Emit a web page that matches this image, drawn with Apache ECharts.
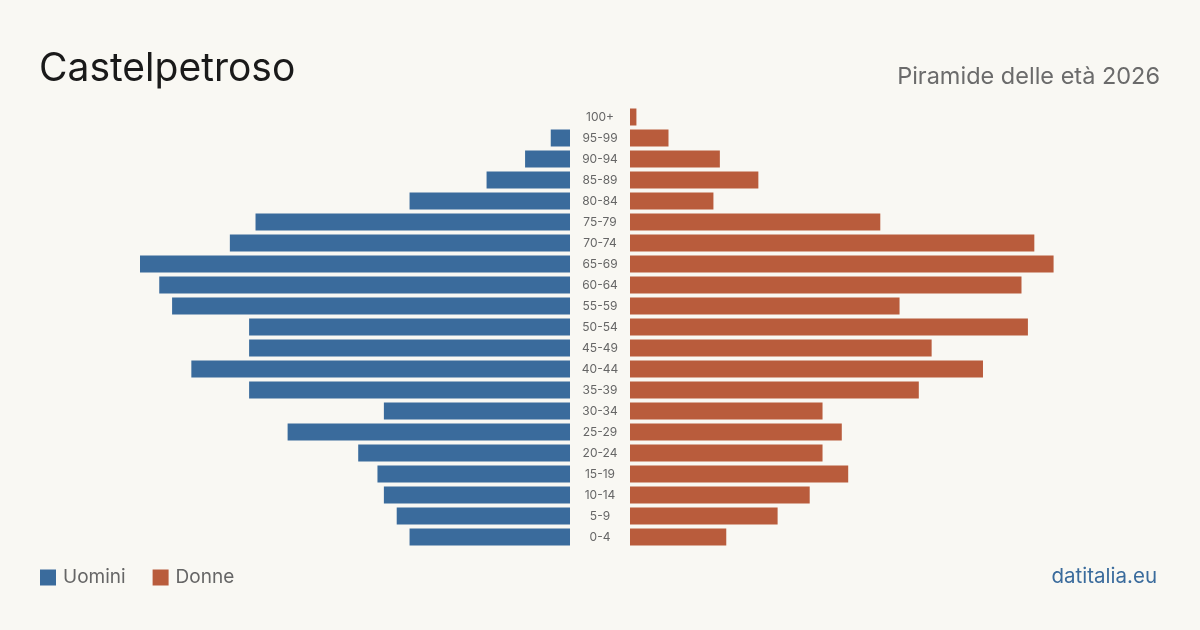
<!DOCTYPE html>
<html>

<head>
    <title>Castelpetroso - Piramide delle età 2026</title>
    <script src="https://cdn.jsdelivr.net/npm/echarts@6.0.0/dist/echarts.min.js"></script>
    <style>
        html, body { margin: 0; padding: 0; background: #f9f8f3; }
    </style>
</head>

<body>
    <div id="myChart" style="width: 1200px; height: 630px;"></div>

    <script>
        // Age classes, top to bottom as in the picture
        const ageClasses = ['100+', '95-99', '90-94', '85-89', '80-84', '75-79', '70-74', '65-69', '60-64',
            '55-59', '50-54', '45-49', '40-44', '35-39', '30-34', '25-29', '20-24', '15-19', '10-14', '5-9', '0-4'];
        const uomini = [0, 3, 7, 13, 25, 49, 53, 67, 64, 62, 50, 50, 59, 50, 29, 44, 33, 30, 29, 27, 25];
        const donne = [1, 6, 14, 20, 13, 39, 63, 66, 61, 42, 62, 47, 55, 45, 30, 33, 30, 34, 28, 23, 15];

        const maxValue = 67;
        const blue = '#3a6b9c';
        const orange = '#b95c3c';
        const font = 'Inter, "Noto Sans", sans-serif';

        const myChart = echarts.init(document.getElementById('myChart'));

        const option = {
            backgroundColor: '#f9f8f3',
            animation: false,
            textStyle: { fontFamily: font },
            title: [
                {
                    text: 'Castelpetroso',
                    left: 34, top: 45,
                    textStyle: { fontSize: 39, fontWeight: 'normal', color: '#1a1a1a', fontFamily: font }
                },
                {
                    text: 'Piramide delle età 2026',
                    right: 35, top: 60,
                    textStyle: { fontSize: 23.5, fontWeight: 'normal', color: '#6b6b6b', fontFamily: font }
                },
                {
                    text: 'datitalia.eu',
                    right: 38, top: 561,
                    textStyle: { fontSize: 20.5, fontWeight: 'normal', color: blue, fontFamily: font }
                }
            ],
            legend: {
                left: 35, top: 563,
                itemWidth: 16, itemHeight: 16, itemGap: 27,
                icon: 'rect',
                textStyle: { fontSize: 19, color: '#666', fontFamily: font, padding: [0, 0, 0, 2] },
                data: ['Uomini', 'Donne']
            },
            grid: [
                { left: 140, width: 430, top: 106.5, height: 441 },
                { left: 630, width: 430, top: 106.5, height: 441 }
            ],
            xAxis: [
                { gridIndex: 0, type: 'value', min: 0, max: maxValue, inverse: true, show: false },
                { gridIndex: 1, type: 'value', min: 0, max: maxValue, show: false }
            ],
            yAxis: [
                {
                    gridIndex: 0, type: 'category', data: ageClasses, inverse: true,
                    axisLine: { show: false }, axisTick: { show: false }, axisLabel: { show: false }
                },
                {
                    gridIndex: 1, type: 'category', data: ageClasses, inverse: true, position: 'left',
                    axisLine: { show: false }, axisTick: { show: false },
                    axisLabel: { margin: 30, align: 'center', fontSize: 12, color: '#666', fontFamily: font }
                }
            ],
            series: [
                {
                    name: 'Uomini', type: 'bar', xAxisIndex: 0, yAxisIndex: 0,
                    data: uomini, barWidth: 17, itemStyle: { color: blue }
                },
                {
                    name: 'Donne', type: 'bar', xAxisIndex: 1, yAxisIndex: 1,
                    data: donne, barWidth: 17, itemStyle: { color: orange }
                }
            ]
        };

        myChart.setOption(option);
    </script>
</body>

</html>
